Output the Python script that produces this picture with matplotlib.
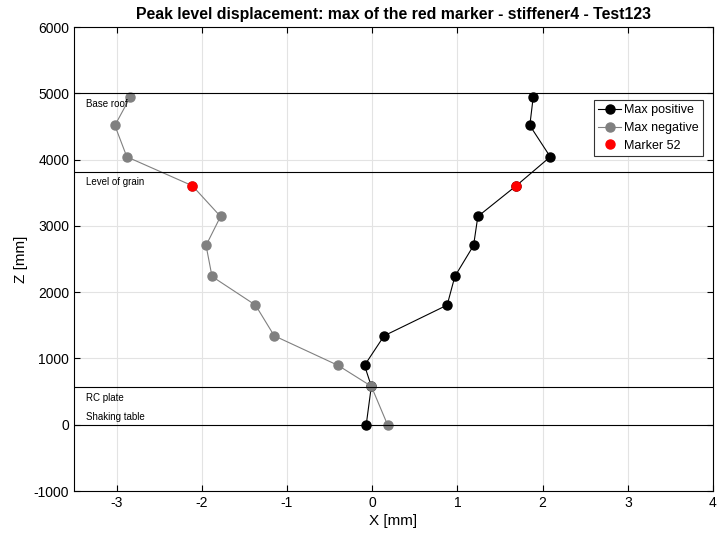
import numpy as np
import matplotlib.pyplot as plt

plt.rcParams['font.family'] = ['Liberation Sans', 'DejaVu Sans']
plt.rcParams['axes.unicode_minus'] = False

# level heights [mm]
z_levels = [0, 580, 895, 1342, 1805, 2237, 2705, 3142, 3605, 4042, 4515, 4943]
x_pos = [-0.07, -0.01, -0.09, 0.14, 0.88, 0.97, 1.19, 1.24, 1.69, 2.09, 1.85, 1.89]
x_neg = [0.18, -0.01, -0.40, -1.15, -1.37, -1.88, -1.95, -1.78, -2.11, -2.88, -3.02, -2.84]

marker_z = 3605
marker_x = [1.69, -2.11]

ref_lines = [5000, 3820, 570, 0]
ref_labels = ['Base roof', 'Level of grain', 'RC plate', 'Shaking table']
label_z = [4840, 3660, 400, 120]

fig = plt.figure(figsize=(7.17, 5.41), dpi=100)
ax = fig.add_axes([0.1032, 0.0924, 0.8912, 0.8576])

ax.plot(x_pos, z_levels, '-o', color='k', lw=0.8, ms=6.5, label='Max positive')
ax.plot(x_neg, z_levels, '-o', color='#808080', lw=0.8, ms=6.5, label='Max negative')
ax.plot(marker_x, [marker_z, marker_z], 'o', color='r', ms=6.5, ls='none', label='Marker 52')

for z in ref_lines:
    ax.axhline(z, color='k', lw=0.8)
for lab, z in zip(ref_labels, label_z):
    ax.text(-3.36, z, lab, fontsize=7, va='center', ha='left')

ax.set_xlim(-3.5, 4)
ax.set_ylim(-1000, 6000)
ax.set_xticks(np.arange(-3, 5, 1))
ax.set_yticks(np.arange(-1000, 7000, 1000))
ax.grid(True, color='#e3e3e3', lw=0.8)
ax.set_axisbelow(True)
ax.tick_params(direction='in', top=True, right=True, labelsize=10, length=4)
for s in ax.spines.values():
    s.set_linewidth(0.8)

ax.set_xlabel('X [mm]', fontsize=11, labelpad=3)
ax.set_ylabel('Z [mm]', fontsize=11, labelpad=4)
ax.set_title('Peak level displacement: max of the red marker - stiffener4 - Test123',
             fontsize=11.4, fontweight='bold', pad=6)

leg = ax.legend(loc='upper right', bbox_to_anchor=(0.984, 0.843), fontsize=9,
                fancybox=False, framealpha=1, edgecolor='#333333',
                borderpad=0.35, labelspacing=0.45, handlelength=1.85,
                handletextpad=0.2, borderaxespad=0)
leg.get_frame().set_linewidth(0.8)

fig.savefig('out.png', dpi=100)
